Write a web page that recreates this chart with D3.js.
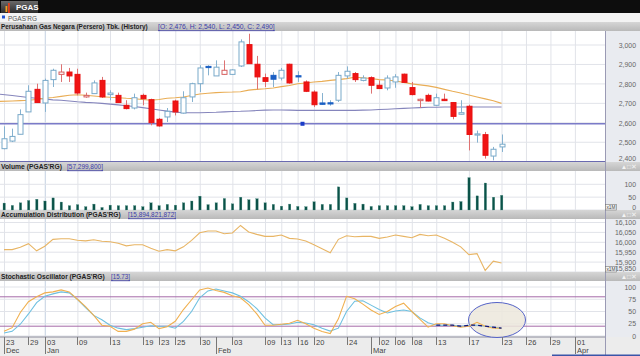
<!DOCTYPE html>
<html><head><meta charset="utf-8">
<script src="https://cdn.jsdelivr.net/npm/d3@7"></script>
<style>
html,body{margin:0;padding:0;background:#fff;overflow:hidden}
svg{display:block;font-family:"Liberation Sans",Arial,sans-serif}
</style></head><body>
<svg id="c" width="640" height="356"></svg>
<script>
// ---------- DATA ----------
const openP  = [2467,2506,2541,2656,2772,2702,2822,2849,2861,2849,2733,2750,2818,2745,2741,2690,2676,2741,2719,2618,2630,2712,2650,2733,2801,2890,2841,2849,2849,2892,3002,2901,2832,2844,2830,2901,2842,2810,2758,2702,2703,2716,2841,2853,2818,2832,2793,2779,2810,2850,2781,2714,2741,2690,2721,2704,2644,2685,2541,2539,2429,2476];
const highP  = [2582,2570,2669,2793,2801,2827,2878,2901,2882,2878,2755,2818,2836,2767,2755,2716,2750,2750,2724,2625,2676,2719,2762,2806,2896,2896,2921,2921,2875,3029,3058,2944,2853,2861,2882,2904,2865,2818,2767,2753,2716,2861,2890,2861,2844,2839,2818,2844,2850,2853,2810,2724,2750,2750,2750,2707,2716,2693,2560,2553,2476,2540];
const lowP   = [2464,2501,2541,2656,2704,2656,2784,2810,2810,2741,2729,2750,2728,2716,2704,2669,2669,2690,2587,2580,2604,2638,2647,2707,2758,2844,2841,2847,2847,2887,2904,2772,2784,2784,2818,2801,2810,2758,2681,2693,2688,2707,2827,2810,2813,2750,2776,2767,2780,2808,2741,2676,2710,2686,2712,2618,2642,2458,2498,2416,2407,2450];
const closeP = [2518,2530,2642,2762,2704,2818,2870,2861,2841,2753,2741,2805,2733,2753,2704,2673,2729,2724,2601,2584,2659,2656,2729,2801,2882,2884,2886,2870,2872,3016,2904,2836,2813,2824,2870,2805,2837,2762,2693,2695,2698,2844,2865,2822,2830,2793,2776,2830,2836,2808,2745,2721,2712,2729,2714,2633,2652,2540,2543,2433,2464,2490];
const volumeM = [27,18,28,37,42,35,47,31,17,21,13,23,10,19,17,17,17,13,28,17,22,19,28,35,54,21,28,45,24,50,40,44,28,22,15,23,14,13,32,22,22,90,47,26,23,14,17,17,17,17,13,22,17,17,17,31,33,126,55,105,50,57.3];
const maShort = [2710,2712,2714,2716,2720,2726,2730,2736,2742,2744,2742,2738,2734,2731,2729,2726,2724,2720,2716,2720,2726,2729,2733,2740,2748,2752,2755,2757,2758,2760,2768,2772,2775,2779,2786,2792,2801,2805,2810,2813,2818,2822,2827,2834,2832,2828,2822,2820,2815,2808,2800,2795,2790,2782,2772,2762,2753,2743,2733,2723,2713,2700];
const maLong  = [2747,2740,2735,2730,2726,2722,2718,2716,2712,2708,2705,2703,2700,2696,2692,2688,2684,2678,2672,2666,2660,2655,2652,2652,2652,2653,2654,2656,2658,2659,2661,2663,2665,2666,2666,2665,2664,2664,2664,2664,2664,2664,2664,2664,2665,2666,2668,2670,2672,2674,2676,2678,2680,2680,2681,2681,2681,2681,2681,2681,2681,2681];
const accDistM = [15963,15963,15975,15993,15957,15980,16015,16018,16018,16010,16007,16013,16005,16003,15995,15982,15988,15988,15970,15955,15963,15957,15977,16010,16048,16057,16057,16043,16047,16085,16052,16040,16030,16030,16037,16020,16017,16007,15988,15968,15947,16015,16033,16028,16030,16030,16020,16027,16037,16030,16023,16040,16033,16037,16020,16000,15977,15938,15943,15858,15905,15895];
const stochK = [9.5,17,48,70,80,88,90,94,90,75,60,42,22,20,9.5,9.5,14,25,28,15,19,30,54,74,94,98,93,89,82,78,64,45,22,22,24,26,32,25,16,9,5,35,81,76,65,53,44,50,60,67,50,34,18,25,25,21,18,20,28,20,16,15.73];
const stochD = [6,9.5,24,45,68,81,86,90,88,75,58,42,33,22,16,13,15,17.7,21,20,20,16,30,50,78,92,96,92,88,81,70,56,37,23,23,24.5,28,26.5,23,16,10,16,50,71,72,63,54,47,51,53,50,37,27,22,22,22,20,22,22,20,18,16];
const dayTickIdx = [0,3,5,9,13,17,19,21,24,28,32,34,36,38,42,46,48,50,53,57,61,64,67,70];
const dayTickLabels = ["23","29","03","09","13","19","23","25","30","03","09","13","16","20","24","02","06","08","13","17","23","26","29","01"];
const monthTickIdx = [0,5,26,45,70];
const monthLabels = ["Dec","Jan","Feb","Mar","Apr"];
const priceTicks = [2400,2500,2600,2700,2800,2900,3000];
const volTicks = [0,50,100];
const adTicks = [15850,15900,15950,16000,16050,16100];
const stochTicks = [0,25,50,75,100];
const stochBands = [20,80];
const drawnLevel = 2595;
const drawnMarkerIdx = 36.6;
const titles = {
  tab:"PGAS", sym:"PGAS'RG",
  main:"Perusahaan Gas Negara (Persero) Tbk. (History)",
  mainVal:"[O: 2,476,  H: 2,540,  L: 2,450,  C: 2,490]",
  vol:"Volume (PGAS'RG)", volVal:"[57,299,800]",
  ad:"Accumulation Distribution (PGAS'RG)", adVal:"[15,894,821,872]",
  st:"Stochastic Oscillator (PGAS'RG)", stVal:"[15.73]"
};

// ---------- LAYOUT ----------
const W=640, H=356, PR=605;
const svg=d3.select("#c");
const defs=svg.append("defs");
const g1=defs.append("linearGradient").attr("id","hdr").attr("x1",0).attr("y1",0).attr("x2",0).attr("y2",1);
g1.append("stop").attr("offset",0).attr("stop-color","#d6d6d6");
g1.append("stop").attr("offset",1).attr("stop-color","#b9b9b9");
const g2=defs.append("linearGradient").attr("id","tab").attr("x1",0).attr("y1",0).attr("x2",0).attr("y2",1);
g2.append("stop").attr("offset",0).attr("stop-color","#6a6a6a");
g2.append("stop").attr("offset",1).attr("stop-color","#2c2c2c");

const x=d3.scaleLinear().domain([0,61]).range([4,501.5]);
const yP=d3.scaleLinear().domain([2400,3000]).range([161.7,45]);
const yV=d3.scaleLinear().domain([0,100]).range([210,184.3]);
const yA=d3.scaleLinear().domain([15850,16100]).range([272,222.5]);
const yS=d3.scaleLinear().domain([0,100]).range([336,287]);

const panels=[
  {t:31,b:162,y:yP,ticks:priceTicks,fmt:d3.format(","),nudge:3},
  {t:171,b:210,y:yV,ticks:volTicks,fmt:d3.format("d"),nudge:3},
  {t:219,b:272,y:yA,ticks:adTicks,fmt:d3.format(","),nudge:3.6},
  {t:281,b:337,y:yS,ticks:stochTicks,fmt:d3.format("d"),nudge:0}
];

// text squeezed horizontally to a target width (via transform, so its box shrinks too)
function fitText(parent,tx,ty,str,width,attrs){
  const t=parent.append("text").text(str);
  Object.entries(attrs).forEach(([k,v])=>t.attr(k,v));
  const nat=t.node().getComputedTextLength();
  const s=nat>0?Math.min(1,width/nat):1;
  t.attr("transform",`translate(${tx},${ty}) scale(${s},1)`);
  return t;
}

svg.append("rect").attr("width",W).attr("height",H).attr("fill","#fff");
// top bar
svg.append("rect").attr("x",0).attr("y",0).attr("width",W).attr("height",13).attr("fill","#0d0d0d");
svg.append("rect").attr("x",1).attr("y",1).attr("width",37).attr("height",12).attr("fill","url(#tab)");
[["#3a7ad0",3,9,6],["#f0a020",5.5,6,9],["#e04020",8,3,12]].forEach(b=>{
  svg.append("rect").attr("x",b[1]).attr("y",b[2]).attr("width",1.8).attr("height",b[3]-b[2]+3).attr("fill",b[0]);
});
svg.append("text").attr("x",16).attr("y",10).attr("fill","#fff").attr("font-size",8).attr("font-weight","bold").text(titles.tab);
// symbol row
svg.append("rect").attr("x",0).attr("y",13).attr("width",W).attr("height",9).attr("fill","#f3f3f3");
svg.append("rect").attr("x",2).attr("y",15.5).attr("width",3).attr("height",3).attr("fill","#2050d0");
fitText(svg,8,20.5,titles.sym,29,{"fill":"#555","font-size":7.5});

// right axis bg & x-axis bg
svg.append("rect").attr("x",PR).attr("y",31).attr("width",W-PR).attr("height",306).attr("fill","#e9ebf0");
svg.append("rect").attr("x",0).attr("y",337).attr("width",W).attr("height",19).attr("fill","#ececec");

// gridlines + axes
panels.forEach(p=>{
  const gg=svg.append("g");
  dayTickIdx.forEach(i=>{
    gg.append("line").attr("x1",x(i)+0.5).attr("x2",x(i)+0.5).attr("y1",p.t).attr("y2",p.b)
      .attr("stroke", i===5?"#c3d0e2":"#e1e3e9").attr("stroke-width",1);
  });
  p.ticks.forEach(v=>{
    gg.append("line").attr("x1",0).attr("x2",PR).attr("y1",p.y(v)).attr("y2",p.y(v)).attr("stroke","#e1e3e9");
  });
  const ax=svg.append("g").attr("transform",`translate(636,0)`)
    .call(d3.axisLeft(p.y).tickValues(p.ticks).tickFormat(p.fmt).tickSize(0).tickPadding(0));
  ax.select(".domain").remove();
  ax.selectAll("text").attr("font-size",6.9).attr("fill","#666").attr("font-family","Liberation Sans, Arial, sans-serif");
  if(p.nudge){
    const lo=d3.min(p.ticks);
    ax.selectAll(".tick").filter(d=>d===lo).select("text").attr("y",-p.nudge);
  }
});

// headers (drawn after axes so they sit on top)
function header(y,label,lw,val,vx,vw){
  svg.append("rect").attr("x",0).attr("y",y).attr("width",W).attr("height",9).attr("fill","url(#hdr)");
  fitText(svg,1,y+7.3,label,lw,{"font-size":7.6,"font-weight":"bold","fill":"#222"});
  fitText(svg,vx,y+7.3,val,vw,{"font-size":7.6,"fill":"#3a3aa8","text-decoration":"underline"});
}
header(22,titles.main,147,titles.mainVal,158,117);
function icons(y){
  svg.append("text").attr("x",637).attr("y",y+7.2).attr("text-anchor","end").attr("font-size",6.5).attr("fill","#f4f4f4").text("\u25B2\u25A1\u2715");
}
header(162,titles.vol,61,titles.volVal,67,36); icons(162);
header(210,titles.ad,120,titles.adVal,128,48); icons(210);
header(272,titles.st,104,titles.stVal,111,19); icons(272);

// plot borders
svg.append("line").attr("x1",PR+0.5).attr("x2",PR+0.5).attr("y1",31).attr("y2",356).attr("stroke","#9a9ab4");
svg.append("line").attr("x1",0).attr("x2",PR).attr("y1",161.5).attr("y2",161.5).attr("stroke","#6a6ab0").attr("stroke-width",1.2);
svg.append("line").attr("x1",0).attr("x2",PR).attr("y1",337).attr("y2",337).attr("stroke","#8a8a9a");

// ---------- MAIN: drawn level & MAs ----------
svg.append("line").attr("x1",0).attr("x2",PR).attr("y1",yP(drawnLevel)).attr("y2",yP(drawnLevel)).attr("stroke","#7b7bc8").attr("stroke-width",1.4);
svg.append("rect").attr("x",x(drawnMarkerIdx)-2).attr("y",yP(drawnLevel)-2).attr("width",4).attr("height",4).attr("fill","#1a3cc8");
svg.append("path").attr("d",d3.line().x((d,i)=>i===0?0:x(i)).y(d=>yP(d))(maLong)).attr("fill","none").attr("stroke","#8585bc").attr("stroke-width",1.1);
svg.append("path").attr("d",d3.line().x((d,i)=>i===0?0:x(i)).y(d=>yP(d))(maShort)).attr("fill","none").attr("stroke","#e9ad55").attr("stroke-width",1.1);

// candles
const cg=svg.append("g");
openP.forEach((o,i)=>{
  const c=closeP[i], h=highP[i], l=lowP[i];
  const prev=i===0?o:closeP[i-1];
  const up=c>=prev;
  const hollow=c>o;
  const cx=Math.round(x(i))+0.5;
  let stroke, fill, wick;
  if(up){ stroke=hollow?"#79a9c9":"#1a5fc4"; fill=hollow?"#fff":"#1a5fc4"; wick="#86b2d0"; }
  else { stroke=hollow?"#d66060":"#e81010"; fill=hollow?"#fff":"#f01414"; wick="#de7272"; }
  cg.append("line").attr("x1",cx).attr("x2",cx).attr("y1",yP(h)).attr("y2",yP(l)).attr("stroke",wick).attr("stroke-width",1);
  const top=yP(Math.max(o,c)), bot=yP(Math.min(o,c));
  cg.append("rect").attr("x",cx-2.5).attr("y",top).attr("width",5).attr("height",Math.max(1.2,bot-top))
    .attr("fill",fill).attr("stroke",stroke).attr("stroke-width",1);
});

// ---------- VOLUME ----------
svg.append("g").selectAll("rect").data(volumeM).join("rect")
  .attr("x",(d,i)=>x(i)-1).attr("y",d=>yV(d)).attr("width",2.4).attr("height",d=>yV(0)-yV(d))
  .attr("fill","#0b5248").attr("stroke","#4f8f85").attr("stroke-width",0.3);
function mult(y){
  svg.append("rect").attr("x",PR+0.5).attr("y",y-5.5).attr("width",11).attr("height",5.5).attr("fill","#f4f4f4").attr("stroke","#777").attr("stroke-width",0.6);
  svg.append("text").attr("x",PR+6).attr("y",y-1.2).attr("text-anchor","middle").attr("font-size",4.8).attr("fill","#444").text("x1M");
}
mult(210); mult(272);

// ---------- ACC DIST ----------
svg.append("path").attr("d",d3.line().x((d,i)=>x(i)).y(d=>yA(d))(accDistM)).attr("fill","none").attr("stroke","#e8b565").attr("stroke-width",1.1);

// ---------- STOCHASTIC ----------
stochBands.forEach(v=>{
  svg.append("line").attr("x1",0).attr("x2",PR).attr("y1",yS(v)).attr("y2",yS(v)).attr("stroke","#a56aa8").attr("stroke-width",1);
});
svg.append("ellipse").attr("cx",497).attr("cy",320).attr("rx",28.5).attr("ry",17.5)
  .attr("fill","#ece8dc").attr("fill-opacity",0.85).attr("stroke","#5563c8").attr("stroke-width",1);
svg.append("path").attr("d",d3.line().x((d,i)=>x(i)).y(d=>yS(d))(stochD)).attr("fill","none").attr("stroke","#6ec0e0").attr("stroke-width",1.1);
svg.append("path").attr("d",d3.line().x((d,i)=>x(i)).y(d=>yS(d))(stochK)).attr("fill","none").attr("stroke","#f0b050").attr("stroke-width",1.1);
svg.append("path").attr("d",d3.line().x((d,i)=>x(i+53)).y(d=>yS(d))(stochD.slice(53)))
  .attr("fill","none").attr("stroke","#14147a").attr("stroke-width",1.3).attr("stroke-dasharray","4,3");

// ---------- X AXIS ----------
const xa=svg.append("g").attr("font-size",7.5).attr("fill","#444");
dayTickIdx.forEach((i,k)=>{
  const xx=Math.round(x(i))+0.5;
  xa.append("line").attr("x1",xx).attr("x2",xx).attr("y1",337).attr("y2",345).attr("stroke","#777");
  xa.append("text").attr("x",xx+1.5).attr("y",344.5).text(dayTickLabels[k]);
});
monthTickIdx.forEach((i,k)=>{
  const xx=Math.round(x(i))+0.5;
  xa.append("line").attr("x1",xx).attr("x2",xx).attr("y1",337).attr("y2",354).attr("stroke","#777");
  xa.append("text").attr("x",xx+1.5).attr("y",353).text(monthLabels[k]);
});
svg.append("rect").attr("x",552).attr("y",354.5).attr("width",88).attr("height",1.5).attr("fill","#3a55a8");
</script>
</body></html>
